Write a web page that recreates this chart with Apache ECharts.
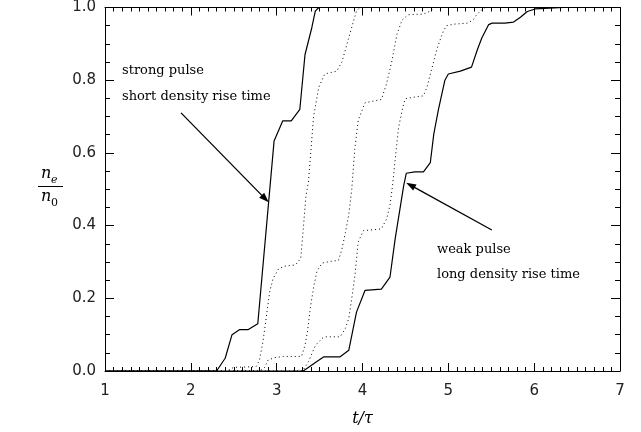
<!DOCTYPE html>
<html><head><meta charset="utf-8">
<script src="https://cdn.jsdelivr.net/npm/echarts@6/dist/echarts.min.js"></script>
<style>html,body{margin:0;padding:0;background:#fff}#c{width:641px;height:432px}</style>
</head><body><div id="c"></div>
<script>
// x ticks 1..7, y ticks 0..1 step 0.2
const xMin = 1, xMax = 7, xStep = 1;
const yMin = 0, yMax = 1, yStep = 0.2;

// solid: strong pulse, short density rise time
const strongPulse = [[1,0],[2.30,0],[2.40,0.035],[2.48,0.10],[2.57,0.114],[2.67,0.114],[2.78,0.13],[2.97,0.633],[3.07,0.688],[3.17,0.688],[3.27,0.72],[3.33,0.87],[3.41,0.945],[3.45,0.99],[3.49,1.0],[7,1.0]];
// dotted intermediate curves
const dotted1 = [[1,0],[2.42,0],[2.50,0.01],[2.76,0.012],[2.80,0.03],[2.84,0.08],[2.88,0.15],[2.92,0.22],[2.96,0.255],[3.02,0.28],[3.08,0.288],[3.22,0.292],[3.28,0.31],[3.31,0.39],[3.34,0.48],[3.37,0.52],[3.43,0.70],[3.49,0.78],[3.56,0.817],[3.70,0.825],[3.76,0.85],[3.82,0.90],[3.88,0.95],[3.93,0.99],[3.97,1.0],[7,1]];
const dotted2 = [[1,0],[2.80,0],[2.86,0.01],[2.90,0.03],[2.98,0.037],[3.08,0.04],[3.29,0.04],[3.33,0.07],[3.36,0.11],[3.39,0.17],[3.43,0.23],[3.47,0.275],[3.53,0.297],[3.64,0.302],[3.72,0.304],[3.76,0.335],[3.80,0.38],[3.84,0.43],[3.875,0.50],[3.91,0.61],[3.95,0.69],[4.03,0.738],[4.22,0.747],[4.28,0.79],[4.34,0.85],[4.40,0.925],[4.46,0.965],[4.53,0.98],[4.71,0.982],[4.79,0.99],[4.83,1.0],[7,1]];
const dotted3 = [[1,0],[3.30,0],[3.37,0.025],[3.45,0.07],[3.53,0.09],[3.57,0.094],[3.74,0.094],[3.80,0.117],[3.84,0.145],[3.875,0.20],[3.915,0.27],[3.95,0.355],[4.01,0.386],[4.22,0.391],[4.28,0.418],[4.32,0.455],[4.35,0.51],[4.38,0.58],[4.42,0.67],[4.48,0.736],[4.50,0.749],[4.59,0.753],[4.71,0.757],[4.75,0.78],[4.81,0.834],[4.87,0.888],[4.94,0.934],[4.98,0.95],[5.06,0.954],[5.22,0.957],[5.29,0.966],[5.33,0.98],[5.39,0.994],[5.43,1.0],[7,1]];
// solid: weak pulse, long density rise time
const weakPulse = [[1,0],[3.31,0],[3.46,0.025],[3.55,0.039],[3.74,0.039],[3.84,0.057],[3.93,0.162],[4.03,0.222],[4.22,0.225],[4.32,0.258],[4.38,0.363],[4.48,0.51],[4.51,0.544],[4.61,0.548],[4.71,0.548],[4.79,0.573],[4.83,0.651],[4.885,0.72],[4.96,0.80],[5.0,0.817],[5.14,0.825],[5.27,0.836],[5.34,0.885],[5.39,0.916],[5.47,0.953],[5.51,0.957],[5.66,0.957],[5.76,0.96],[5.84,0.973],[5.92,0.989],[6.01,0.996],[6.34,1.0],[7,1]];

// annotation arrows (data coords: from -> to)
const strongArrow = [[1.886,0.71],[2.907,0.464]];
const weakArrow = [[5.507,0.388],[4.508,0.518]];
const strongText = ['strong pulse', 'short density rise time'];
const weakText = ['weak pulse', 'long density rise time'];

const tickFont = 'DejaVu Sans';
const serif = 'DejaVu Serif';

function axisX(pos, showLabel) {
  return {
    type: 'value', min: xMin, max: xMax, interval: xStep, position: pos,
    axisLine: {show: true, onZero: false, lineStyle: {color: '#000', width: 1}},
    axisTick: {show: true, inside: true, length: 8, lineStyle: {color: '#000', width: 1}},
    minorTick: {show: true, splitNumber: 10, length: 4, lineStyle: {color: '#000', width: 1}},
    splitLine: {show: false}, minorSplitLine: {show: false},
    axisLabel: {show: showLabel, fontFamily: tickFont, fontSize: 15, color: '#222', margin: 13},
    name: showLabel ? 't/τ' : '', nameLocation: 'middle', nameGap: 40,
    nameTextStyle: {fontFamily: serif, fontStyle: 'italic', fontSize: 16, color: '#000'}
  };
}
function axisY(pos, showLabel) {
  return {
    type: 'value', min: yMin, max: yMax, interval: yStep, position: pos,
    axisLine: {show: true, onZero: false, lineStyle: {color: '#000', width: 1}},
    axisTick: {show: true, inside: true, length: 9, lineStyle: {color: '#000', width: 1}},
    minorTick: {show: true, splitNumber: 4, length: 5, lineStyle: {color: '#000', width: 1}},
    splitLine: {show: false}, minorSplitLine: {show: false},
    axisLabel: {show: showLabel, fontFamily: tickFont, fontSize: 15, color: '#222', margin: 9,
      formatter: v => v.toFixed(1)}
  };
}

function lineSeries(data, dotted) {
  return {
    type: 'line', data: data, showSymbol: false, symbol: 'none', silent: true,
    xAxisIndex: 0, yAxisIndex: 0,
    lineStyle: {color: '#000', width: dotted ? 1 : 1.2, type: dotted ? [1, 3] : 'solid'},
    animation: false, z: 3
  };
}

const chart = echarts.init(document.getElementById('c'), null, {renderer: 'canvas'});
chart.setOption({
  animation: false,
  grid: {left: 105, right: 21, top: 6, bottom: 61, containLabel: false},
  xAxis: [axisX('bottom', true), axisX('top', false)],
  yAxis: [axisY('left', true), axisY('right', false)],
  series: [
    lineSeries(strongPulse, false),
    lineSeries(dotted1, true),
    lineSeries(dotted2, true),
    lineSeries(dotted3, true),
    lineSeries(weakPulse, false)
  ]
});

// arrows and annotation text, positioned from data coordinates through the axes
function arrowGraphics(pts) {
  const a = chart.convertToPixel({gridIndex: 0}, pts[0]);
  const b = chart.convertToPixel({gridIndex: 0}, pts[1]);
  const dx = b[0] - a[0], dy = b[1] - a[1];
  const len = Math.sqrt(dx * dx + dy * dy);
  const ux = dx / len, uy = dy / len;
  const hl = 10, hw = 3.5;
  const bx = b[0] - ux * hl, by = b[1] - uy * hl;
  return [
    {type: 'line', shape: {x1: a[0], y1: a[1], x2: bx + ux * 2, y2: by + uy * 2}, style: {stroke: '#000', lineWidth: 1.3}, z: 10},
    {type: 'polygon', shape: {points: [[b[0], b[1]], [bx - uy * hw, by + ux * hw], [bx + uy * hw, by - ux * hw]]}, style: {fill: '#000'}, z: 10}
  ];
}

chart.setOption({
  graphic: [].concat(
    arrowGraphics(strongArrow),
    arrowGraphics(weakArrow),
    [
      {type: 'text', left: 122, top: 64, style: {text: strongText[0], font: '13px "DejaVu Serif"', fill: '#000'}},
      {type: 'text', left: 122, top: 90, style: {text: strongText[1], font: '13px "DejaVu Serif"', fill: '#000'}},
      {type: 'text', left: 437, top: 243, style: {text: weakText[0], font: '13px "DejaVu Serif"', fill: '#000'}},
      {type: 'text', left: 437, top: 268, style: {text: weakText[1], font: '13px "DejaVu Serif"', fill: '#000'}},
      {type: 'text', x: 41, y: 166, style: {text: 'n', font: 'italic 16px "DejaVu Serif"', fill: '#000'}},
      {type: 'text', x: 51, y: 175, style: {text: 'e', font: 'italic 11px "DejaVu Serif"', fill: '#000'}},
      {type: 'line', shape: {x1: 38, y1: 186.5, x2: 63, y2: 186.5}, style: {stroke: '#000', lineWidth: 1}},
      {type: 'text', x: 41, y: 189, style: {text: 'n', font: 'italic 16px "DejaVu Serif"', fill: '#000'}},
      {type: 'text', x: 51, y: 198, style: {text: '0', font: '11px "DejaVu Serif"', fill: '#000'}}
    ]
  )
});
</script></body></html>
